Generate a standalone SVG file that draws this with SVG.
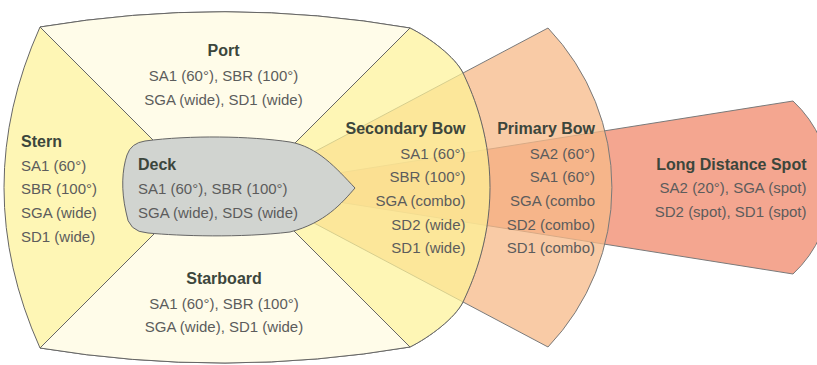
<svg xmlns="http://www.w3.org/2000/svg" width="817" height="365" viewBox="0 0 817 365">
<style>
.ttl{font-family:"Liberation Sans",Arial,sans-serif;font-size:16px;font-weight:bold;fill:#3c463c}
.bd{font-family:"Liberation Sans",Arial,sans-serif;font-size:15px;fill:#5c5c5c}
.mid{text-anchor:middle}
.end{text-anchor:end}
.edge{stroke:#666;stroke-width:1}
.fan{stroke:#7a7a7a;stroke-width:1}
</style>
<defs>
<path id="wedge" d="M250.5,187.5 L410,28 C430,38 455,57 463,73 C470,88 490,130 490,187.5 C490,245 470,287 463,302 C455,318 430,337 410,347 Z"/>
</defs>
<rect width="817" height="365" fill="#ffffff"/>
<g id="stern">
<path class="edge" fill="#FEF6B5" d="M40,27 Q225,-4 410,28 C430,38 455,57 463,73 C470,88 490,130 490,187.5 C490,245 470,287 463,302 C455,318 430,337 410,347 Q225,378.5 40,348 Q-32,187.5 40,27 Z"/>
</g>
<g id="port">
<path class="edge" fill="#FFFCE9" d="M40,27 Q225,-4 410,28 L260,178 L190,177 Z"/>
</g>
<g id="starboard">
<path class="edge" fill="#FFFCE9" d="M40,348 Q225,378.5 410,347 L260,197 L190,198 Z"/>
</g>
<use href="#wedge" fill="#ffffff"/>
<g id="long-distance-spot">
<path class="fan" fill="#F4A690" d="M247,187.5 L793,101 A118,118 0 0 1 793,274 Z"/>
</g>
<g id="primary-bow">
<path class="fan" fill="#F7B988" fill-opacity="0.75" d="M247,187.5 L548,28 A231,231 0 0 1 548,347 Z"/>
</g>
<g id="secondary-bow">
<use href="#wedge" class="edge" fill="#FEF295" fill-opacity="0.7"/>
</g>
<g id="deck">
<path class="edge" fill="#D1D4D0" d="M145,141 C190,135 250,136 290,142 C318,147 336,168 355,188 C342,203 325,223 290,232 C240,238 180,236 148,233 Q128,232 126,212 C121,190 122,170 127,155 Q131,143 145,141 Z"/>
</g>
<g id="labels">
<text class="ttl mid" x="223.5" y="56">Port</text>
<text class="bd mid" x="223.5" y="81">SA1 (60°), SBR (100°)</text>
<text class="bd mid" x="223.5" y="104.5">SGA (wide), SD1 (wide)</text>
<text class="ttl" x="21" y="147">Stern</text>
<text class="bd" x="21" y="170.5">SA1 (60°)</text>
<text class="bd" x="21" y="194">SBR (100°)</text>
<text class="bd" x="21" y="218">SGA (wide)</text>
<text class="bd" x="21" y="241.5">SD1 (wide)</text>
<text class="ttl" x="138" y="169.5">Deck</text>
<text class="bd" x="138" y="194">SA1 (60°), SBR (100°)</text>
<text class="bd" x="138" y="217.5">SGA (wide), SDS (wide)</text>
<text class="ttl mid" x="224" y="284">Starboard</text>
<text class="bd mid" x="224" y="308.5">SA1 (60°), SBR (100°)</text>
<text class="bd mid" x="224" y="332">SGA (wide), SD1 (wide)</text>
<text class="ttl end" x="465.5" y="133.5">Secondary Bow</text>
<text class="bd end" x="465.5" y="158.5">SA1 (60°)</text>
<text class="bd end" x="465.5" y="182">SBR (100°)</text>
<text class="bd end" x="465.5" y="206">SGA (combo)</text>
<text class="bd end" x="465.5" y="229.5">SD2 (wide)</text>
<text class="bd end" x="465.5" y="253">SD1 (wide)</text>
<text class="ttl end" x="595" y="133.5">Primary Bow</text>
<text class="bd end" x="595" y="158.5">SA2 (60°)</text>
<text class="bd end" x="595" y="182">SA1 (60°)</text>
<text class="bd end" x="595" y="206">SGA (combo</text>
<text class="bd end" x="595" y="229.5">SD2 (combo)</text>
<text class="bd end" x="595" y="253">SD1 (combo)</text>
<text class="ttl end" x="806.5" y="169.5">Long Distance Spot</text>
<text class="bd end" x="806.5" y="193">SA2 (20°), SGA (spot)</text>
<text class="bd end" x="806.5" y="217">SD2 (spot), SD1 (spot)</text>
</g>
</svg>
